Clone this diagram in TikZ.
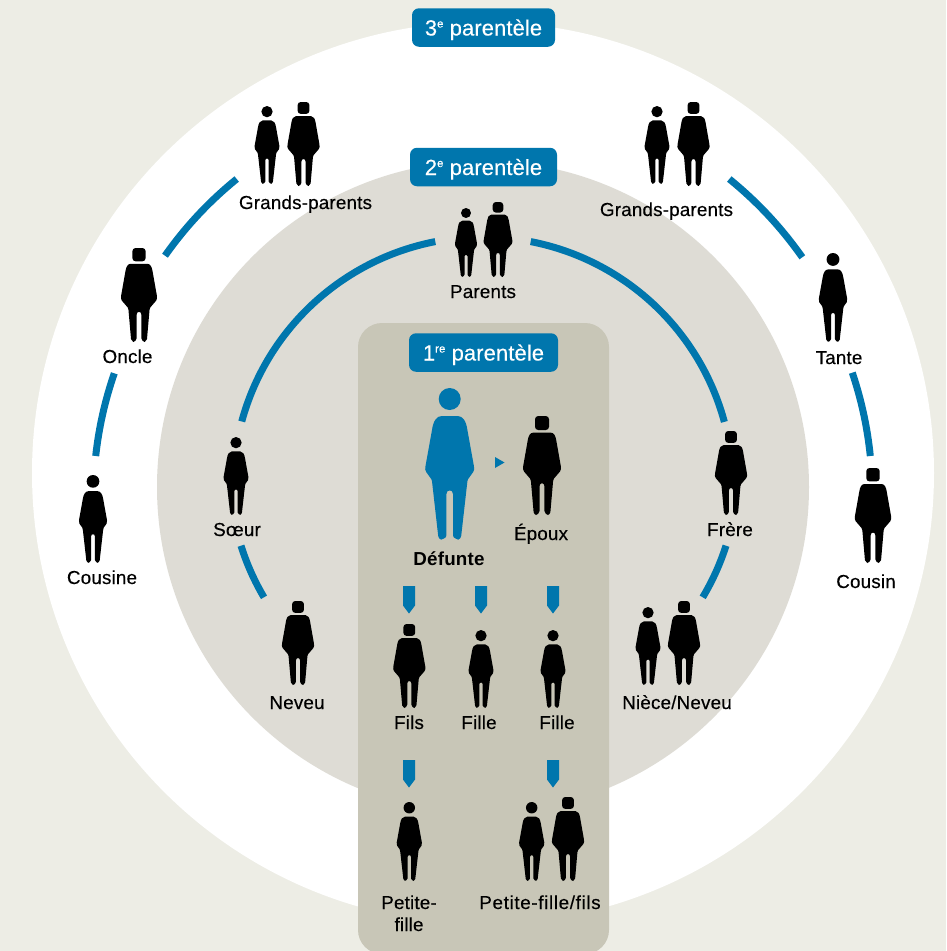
\documentclass[tikz,border=0pt]{standalone}
\usepackage{fontspec}
\setmainfont{Liberation Sans}[LetterSpace=1,UprightFeatures={FakeBold=0.35}]
\newfontfamily\widelbl{Liberation Sans}[LetterSpace=3.5,FakeBold=0.35]
\newfontfamily\pilllbl{Liberation Sans}[LetterSpace=0.4,FakeBold=0.2]
\definecolor{bgc}{HTML}{EDEDE5}
\definecolor{midc}{HTML}{DEDCD5}
\definecolor{panelc}{HTML}{C8C6B7}
\definecolor{bluec}{HTML}{0076AD}
\newcommand{\supr}[1]{\raisebox{0.36em}{\fontsize{11.5}{12}\selectfont #1}}
\tikzset{
  x=1pt,y=-1pt,
  lbl/.style={inner sep=0pt,text=black,font=\fontsize{18.8}{22}\selectfont,text height=13pt,text depth=1pt,align=center},
  pill/.style={fill=bluec,rounded corners=7pt,text=white,font=\pilllbl\fontsize{22}{24}\selectfont,minimum height=38.5pt,inner sep=0pt,text height=17pt,text depth=1pt},
  link/.style={draw=bluec,line width=7pt},
  bendlink/.style={link,bend left=#1,looseness=0.87},
  woman/.pic={
    \fill[pic actions] (0,11) circle (11);
    \fill[pic actions] (-8,28) -- (8,28) .. controls (13,28) and (16.5,33) .. (17.7,42) -- (24.2,78)
      .. controls (24.8,81) and (24.6,82) .. (23.5,84) -- (18.5,91) .. controls (17.8,92) and (17.7,93) .. (17.5,95)
      -- (11.5,148) .. controls (11.3,150) and (10,151) .. (8.5,151.7) -- (5.5,150.3) .. controls (4,149.7) and (3.4,149) .. (3.3,147)
      -- (3.3,106) .. controls (3.3,103) and (1.5,102.5) .. (0,102.5) .. controls (-1.5,102.5) and (-3.3,103) .. (-3.3,106)
      -- (-3.3,147) .. controls (-3.4,149) and (-4,149.7) .. (-5.5,150.3) -- (-8.5,151.7) .. controls (-10,151) and (-11.3,150) .. (-11.5,148)
      -- (-17.5,95) .. controls (-17.7,93) and (-17.8,92) .. (-18.5,91) -- (-23.5,84) .. controls (-24.6,82) and (-24.8,81) .. (-24.2,78)
      -- (-17.7,42) .. controls (-16.5,33) and (-13,28) .. (-8,28) -- cycle;
  },
  manfig/.pic={
    \fill[pic actions,rounded corners=3.2pt] (-7,0) rectangle (7,14);
    \fill[pic actions] (-9,16.7) -- (9,16.7) .. controls (12,16.7) and (13.5,20) .. (14.2,24) -- (18.8,50)
      .. controls (19.2,52.5) and (19,54) .. (18,55.5) -- (12,62.5) .. controls (11.4,63.3) and (11.2,64) .. (11.1,65)
      -- (8.4,96) .. controls (8.2,97.5) and (7.2,98.5) .. (6,99) -- (3.8,97.8) .. controls (3,97.2) and (2.5,96.6) .. (2.4,95)
      -- (2.4,70) .. controls (2.4,68) and (1.2,67.3) .. (0,67.3) .. controls (-1.2,67.3) and (-2.4,68) .. (-2.4,70)
      -- (-2.4,95) .. controls (-2.5,96.6) and (-3,97.2) .. (-3.8,97.8) -- (-6,99) .. controls (-7.2,98.5) and (-8.2,97.5) .. (-8.4,96)
      -- (-11.1,65) .. controls (-11.2,64) and (-11.4,63.3) .. (-12,62.5) -- (-18,55.5) .. controls (-19,54) and (-19.2,52.5) .. (-18.8,50)
      -- (-14.2,24) .. controls (-13.5,20) and (-12,16.7) .. (-9,16.7) -- cycle;
  }
}
\newcommand{\wfig}[3]{\pgfmathsetmacro{\sf}{(#3-#2)/152}\pic[fill=black,scale=\sf] at (#1,#2) {woman};}
\newcommand{\mfig}[3]{\pgfmathsetmacro{\sf}{(#3-#2)/99}\pic[fill=black,scale=\sf] at (#1,#2) {manfig};}
\newcommand{\downmark}[2]{\fill[bluec] (#1-6,#2) -- (#1+6,#2) -- (#1+6,#2+19.5) -- (#1,#2+27.5) -- (#1-6,#2+19.5) -- cycle;}
\begin{document}
\begin{tikzpicture}
\useasboundingbox (0,0) rectangle (946,951);
\fill[bgc] (0,0) rectangle (946,951);
\coordinate (outerc) at (483,473);
\coordinate (innerc) at (483,487);
\fill[white] (outerc) circle (451);
\fill[midc] (innerc) circle (326);
\begin{scope}
\clip (0,0) rectangle (946,951);
\fill[panelc,rounded corners=24pt] (358,323) rectangle (609,954);
\end{scope}

% links
\coordinate (oa1) at (165,255.7); \coordinate (oa2) at (236.7,179);
\coordinate (ob1) at (95.7,456); \coordinate (ob2) at (114.3,373.3);
\coordinate (oc1) at (729.3,179); \coordinate (oc2) at (802.3,257.3);
\coordinate (od1) at (852.3,372.7); \coordinate (od2) at (870.3,456);
\coordinate (ia1) at (264,597.3); \coordinate (ia2) at (241,545.7);
\coordinate (ib1) at (726,545.7); \coordinate (ib2) at (702.7,597.3);
\draw[link] (oa1) to[bendlink=7.8] (oa2);
\draw[link] (ob1) to[bendlink=6.3] (ob2);
\draw[link] (oc1) to[bendlink=7.8] (oc2);
\draw[link] (od1) to[bendlink=6.3] (od2);
\draw[link] (ia1) to[bendlink=6.5] (ia2);
\draw[link] (ib1) to[bendlink=6.5] (ib2);
\foreach \a/\b in {164.8/101,79/15.1}{
  \draw[link] (innerc) ++(-\a:250) arc[start angle=-\a,end angle=-\b,radius=250];
}

% pills
\node[pill,minimum width=143pt] (p3) at (483.5,27.5) {3\supr{e} parentèle};
\node[pill,minimum width=147pt] (p2) at (483.5,167) {2\supr{e} parentèle};
\node[pill,minimum width=149pt] (p1) at (483.5,352.5) {1\supr{re} parentèle};

% figures
\wfig{267}{106}{184}\mfig{303.5}{102}{186}
\wfig{657}{106}{184}\mfig{693.5}{102}{186}
\wfig{466}{208}{277}\mfig{498}{202}{277}
\mfig{139}{248}{342}
\wfig{833}{253}{342}
\wfig{93}{475}{563}
\mfig{873}{468}{563}
\wfig{236}{437}{515}
\mfig{731}{431}{515}
\mfig{298}{601}{685}
\wfig{648}{607}{685}\mfig{684}{601}{685}
\pic[fill=bluec] at (449.7,388) {woman};
\mfig{542}{416}{515}
\mfig{409.3}{624}{708}
\wfig{481}{630}{708}
\wfig{553}{630}{708}
\wfig{409.3}{802}{881}
\wfig{531.7}{802}{881}\mfig{568}{797}{881}

% markers
\downmark{409}{586}\downmark{481}{586}\downmark{553}{586}
\downmark{409}{760}\downmark{553}{760}
\fill[bluec] (495,457) -- (504.5,462.5) -- (495,468) -- cycle;

% labels
\node[lbl] (gpl) at (305.5,203) {Grands-parents};
\node[lbl] (gpr) at (666.5,210) {Grands-parents};
\node[lbl] (par) at (483,292) {Parents};
\node[lbl] (onc) at (127.5,357) {Oncle};
\node[lbl] (tan) at (839,358) {Tante};
\node[lbl] (cse) at (102,578) {Cousine};
\node[lbl] (csn) at (866,582) {Cousin};
\node[lbl] (soe) at (237,530) {Sœur};
\node[lbl] (fre) at (730,530) {Frère};
\node[lbl] (nev) at (297,703) {Neveu};
\node[lbl] (nin) at (677,703) {Nièce/Neveu};
\node[lbl,font=\fontsize{18.8}{22}\selectfont\bfseries] (def) at (449,559) {Défunte};
\node[lbl] (epo) at (541,534) {Époux};
\node[lbl] (fil) at (409,723) {Fils};
\node[lbl] (fa) at (479,723) {Fille};
\node[lbl] (fb) at (557,723) {Fille};
\node[lbl] (pf) at (409,903) {Petite-};
\node[lbl] (pf2) at (409,925) {fille};
\node[lbl,font=\widelbl\fontsize{18.8}{22}\selectfont] (pff) at (540,903) {Petite-fille/fils};
\end{tikzpicture}
\end{document}
